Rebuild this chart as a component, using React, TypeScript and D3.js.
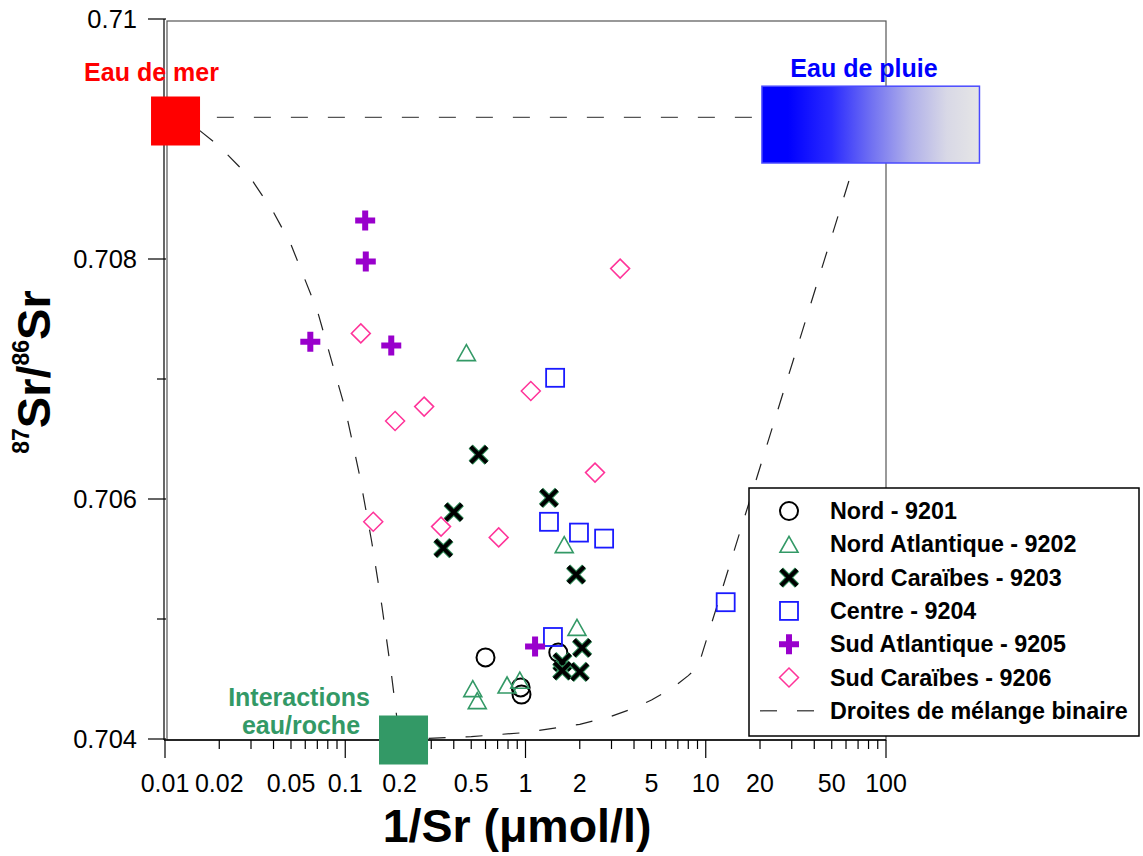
import React from "react";
import * as d3 from "d3";

// ---------- data ----------
type P = [number, number];

const nord9201: P[] = [[0.60, 0.70468], [1.52, 0.70472], [0.94, 0.70443], [0.95, 0.70437]];
const nordAtl9202: P[] = [[0.47, 0.70722], [1.64, 0.70562], [1.93, 0.70493], [0.51, 0.70442], [0.54, 0.70432], [0.79, 0.70445], [0.93, 0.70449]];
const nordCar9203: P[] = [[0.55, 0.70637], [1.35, 0.70601], [0.40, 0.70589], [0.35, 0.70559], [1.91, 0.70537], [2.06, 0.70476], [1.60, 0.70464], [1.60, 0.70457], [2.00, 0.70456]];
const centre9204: P[] = [[1.46, 0.70701], [1.35, 0.70581], [1.98, 0.70572], [2.73, 0.70567], [12.9, 0.70514], [1.42, 0.70485]];
const sudAtl9205: P[] = [[0.129, 0.70832], [0.130, 0.70798], [0.064, 0.70731], [0.18, 0.70728], [1.13, 0.70477]];
const sudCar9206: P[] = [[3.35, 0.70792], [0.122, 0.70738], [0.189, 0.70665], [0.274, 0.70677], [1.07, 0.7069], [2.43, 0.70622], [0.143, 0.70581], [0.34, 0.70577], [0.71, 0.70568]];

// mixing lines
const mixSeaRain: P[] = [[0.0194, 0.70918], [20, 0.70918]];
const mixSeaRock: P[] = [[0.0156, 0.70907], [0.02, 0.70894], [0.03, 0.70867], [0.04, 0.70839], [0.05, 0.70812], [0.07, 0.70757], [0.1, 0.70675], [0.12, 0.7062], [0.14, 0.70565], [0.16, 0.7051], [0.18, 0.70455], [0.2, 0.704]];
const mixRockRain: P[] = [[0.29, 0.704006], [0.5, 0.70402], [1, 0.704054], [2, 0.704122], [3, 0.70419], [4, 0.704257], [5, 0.704325], [6, 0.704393], [7, 0.70446], [8, 0.704528], [9.06, 0.7046], [65.6, 0.70876]];

// end-members
const seaWater = { x: 0.01144, y: 0.70915 };
const rockInteraction = { x: 0.2105, y: 0.704 };
const rainBox = { x0: 20.5, x1: 330, y0: 0.7088, y1: 0.70944 };

// axes
const xTickLabels = ["0.01", "0.02", "0.05", "0.1", "0.2", "0.5", "1", "2", "5", "10", "20", "50", "100"];
const xMajor = [0.01, 0.1, 1, 10, 100];
const yMajor = ["0.704", "0.706", "0.708", "0.71"];
const yMinor = [0.705, 0.707, 0.709];

const legendLabels = [
  "Nord - 9201",
  "Nord Atlantique - 9202",
  "Nord Caraïbes - 9203",
  "Centre - 9204",
  "Sud Atlantique - 9205",
  "Sud Caraïbes - 9206",
  "Droites de mélange binaire",
];

// ---------- styles ----------
const FONT = "'Liberation Sans', Arial, Helvetica, sans-serif";
const GREEN = "#339966";
const PURPLE = "#9900cc";
const PINK = "#ff3399";
const BLUE = "#1a1aff";

const W = 1143, H = 856;

function Marker({ kind, x, y }: { kind: number; x: number; y: number }) {
  const t = `translate(${x},${y})`;
  switch (kind) {
    case 0:
      return <circle transform={t} r={9} fill="none" stroke="#000" strokeWidth={2} />;
    case 1:
      return <path transform={t} d="M0,-8L9,8L-9,8Z" fill="none" stroke={GREEN} strokeWidth={1.6} />;
    case 2:
      return (
        <g transform={t}>
          <path d="M-8,-8L8,8M8,-8L-8,8" stroke="#2e8b57" strokeWidth={6} />
          <path d="M-8,-8L8,8M8,-8L-8,8" stroke="#000" strokeWidth={4} />
        </g>
      );
    case 3:
      return <rect transform={t} x={-9} y={-9} width={18} height={18} fill="none" stroke={BLUE} strokeWidth={1.8} />;
    case 4:
      return <path transform={t} d="M-10,0L10,0M0,-10L0,10" stroke={PURPLE} strokeWidth={6} />;
    default:
      return <path transform={t} d="M0,-9.5L9.5,0L0,9.5L-9.5,0Z" fill="none" stroke={PINK} strokeWidth={1.5} />;
  }
}

export default function App() {
  const x = d3.scaleLog().domain([0.01, 100]).range([165, 886]);
  const y = d3.scaleLinear().domain([0.704, 0.71]).range([739, 19]);
  const line = d3.line<P>().x((d) => x(d[0])).y((d) => y(d[1]));

  const xAxisY = y(0.704) + 1;
  const left = x(0.01);
  const right = x(100);
  const top = y(0.71);

  const series: P[][] = [nord9201, nordAtl9202, nordCar9203, centre9204, sudAtl9205, sudCar9206];
  const minorX = x.ticks().filter((v) => !xMajor.some((m) => Math.abs(m - v) / m < 1e-9));

  const seaSize = 49;
  const dash = "17 20";

  return (
    <div style={{ position: "absolute", left: 0, top: 0 }}>
      <svg width={W} height={H} viewBox={`0 0 ${W} ${H}`} style={{ display: "block", fontFamily: FONT }}>
        <defs>
          <linearGradient id="rain" x1="0" x2="1" y1="0" y2="0">
            <stop offset="0" stopColor="#0000ff" />
            <stop offset="0.12" stopColor="#0000ff" />
            <stop offset="0.32" stopColor="#2a2aff" />
            <stop offset="0.5" stopColor="#6f6ff2" />
            <stop offset="0.68" stopColor="#afafea" />
            <stop offset="0.85" stopColor="#d8d8e6" />
            <stop offset="1" stopColor="#e6e6e6" />
          </linearGradient>
        </defs>
        <rect width={W} height={H} fill="#fff" />

        {/* frame */}
        <rect x={left + 2} y={top + 2} width={right - left - 2} height={xAxisY - top - 2} fill="none" stroke="#555" strokeWidth={1.2} />
        {/* y axis */}
        <line x1={left - 1} x2={left - 1} y1={top} y2={xAxisY} stroke="#000" strokeWidth={1.2} />
        {yMajor.map((v) => (
          <g key={v}>
            <line x1={left - 17} x2={left + 1} y1={y(+v)} y2={y(+v)} stroke="#000" strokeWidth={1.2} />
            <text x={137} y={y(+v) + 9} textAnchor="end" fontSize={25.5}>{v}</text>
          </g>
        ))}
        {yMinor.map((v) => (
          <line key={v} x1={left - 8} x2={left + 1} y1={y(v)} y2={y(v)} stroke="#000" strokeWidth={1.2} />
        ))}
        {/* x axis */}
        <line x1={left - 1} x2={right} y1={xAxisY} y2={xAxisY} stroke="#000" strokeWidth={1.4} />
        {xMajor.map((v) => (
          <line key={"M" + v} x1={x(v)} x2={x(v)} y1={xAxisY} y2={xAxisY + 18} stroke="#000" strokeWidth={1.2} />
        ))}
        {minorX.map((v) => (
          <line key={"m" + v} x1={x(v)} x2={x(v)} y1={xAxisY} y2={xAxisY + 9} stroke="#000" strokeWidth={1.2} />
        ))}
        {xTickLabels.map((s) => (
          <text key={s} x={x(+s)} y={792} textAnchor="middle" fontSize={25}>{s}</text>
        ))}

        {/* axis titles */}
        <text x={517} y={842} textAnchor="middle" fontSize={46.5} fontWeight="bold">1/Sr (μmol/l)</text>
        <text transform="translate(50,372) rotate(-90)" textAnchor="middle" fontWeight="bold" fontSize={47}>
          <tspan fontSize={23} dy={-21}>87</tspan>
          <tspan dy={21}>Sr/</tspan>
          <tspan fontSize={23} dy={-21}>86</tspan>
          <tspan dy={21}>Sr</tspan>
        </text>

        {/* mixing lines */}
        {[mixSeaRain, mixSeaRock, mixRockRain].map((d, i) => (
          <path key={i} d={line(d) || ""} fill="none" stroke={i === 0 ? "#555" : "#222"} strokeWidth={1.2} strokeDasharray={dash} />
        ))}

        {/* end-members */}
        <rect x={x(seaWater.x) - seaSize / 2} y={y(seaWater.y) - seaSize / 2} width={seaSize} height={seaSize} fill="#ff0000" />
        <text x={151.5} y={81} textAnchor="middle" fontSize={25} fontWeight="bold" fill="#ff0000">Eau de mer</text>
        <rect x={x(rainBox.x0)} y={y(rainBox.y1)} width={x(rainBox.x1) - x(rainBox.x0)} height={y(rainBox.y0) - y(rainBox.y1)} fill="url(#rain)" stroke="#4a4aff" strokeWidth={1.5} />
        <text x={864} y={77} textAnchor="middle" fontSize={25} fontWeight="bold" fill="#0000ff">Eau de pluie</text>
        <rect x={x(rockInteraction.x) - seaSize / 2} y={y(rockInteraction.y) - seaSize / 2 + 1} width={seaSize} height={seaSize} fill={GREEN} />
        <text x={299} y={706} textAnchor="middle" fontSize={25} fontWeight="bold" fill={GREEN}>Interactions</text>
        <text x={301} y={734} textAnchor="middle" fontSize={25} fontWeight="bold" fill={GREEN}>eau/roche</text>

        {/* samples */}
        {series.map((s, k) => (
          <g key={k}>
            {s.map((p, i) => (
              <Marker key={i} kind={k} x={x(p[0])} y={y(p[1])} />
            ))}
          </g>
        ))}

        {/* legend */}
        <rect x={749} y={488} width={390} height={248} fill="#fff" stroke="#000" strokeWidth={1.5} />
        {legendLabels.map((lab, i) => {
          const cy = 511 + i * 33.3;
          return (
            <g key={lab}>
              {i < 6 ? (
                <Marker kind={i} x={789} y={cy} />
              ) : (
                <line x1={760} x2={816} y1={cy} y2={cy} stroke="#555" strokeWidth={1.5} strokeDasharray={dash} />
              )}
              <text x={830} y={cy + 8} fontSize={23.3} fontWeight="bold">{lab}</text>
            </g>
          );
        })}
      </svg>
    </div>
  );
}
